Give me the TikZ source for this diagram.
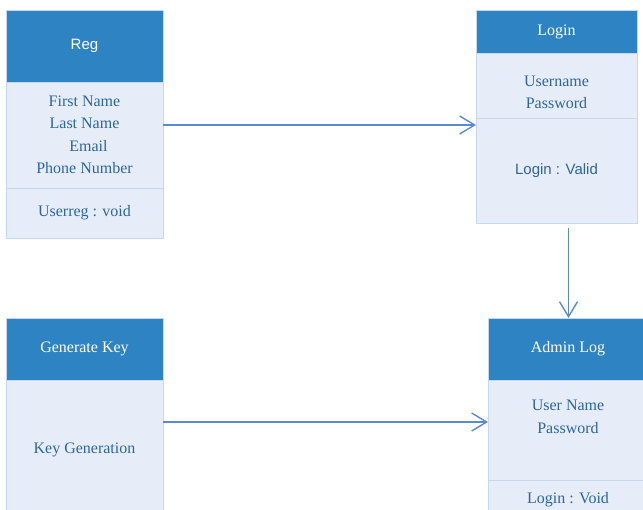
\documentclass[tikz,border=0pt]{standalone}
\usepackage{fontspec}
\setmainfont{Liberation Serif}
\newfontfamily\arialfont{Liberation Sans}
\usetikzlibrary{positioning,arrows.meta}
\definecolor{headblue}{HTML}{2E84C2}
\definecolor{bodyblue}{HTML}{E6EDF8}
\definecolor{lineblue}{HTML}{C4D9F0}
\definecolor{textblue}{HTML}{2C65A0}
\definecolor{arrowblue}{HTML}{5A8BD0}
\tikzset{
  head/.style={draw=lineblue, fill=headblue, text=white, anchor=north west,
    inner sep=0pt, outer sep=0pt, align=center,
    font=\fontsize{16}{22}\selectfont},
  part/.style={draw=lineblue, fill=bodyblue, text=textblue,
    inner sep=0pt, outer sep=0pt, align=center,
    font=\fontsize{16}{22.5}\selectfont},
  assoc/.style={draw=arrowblue, line width=1.4pt,
    -{Straight Barb[length=15pt,width=18pt]}},
}
\begin{document}
\begin{tikzpicture}[x=1pt,y=-1pt]
\useasboundingbox (0,0) rectangle (643,510);
\clip (0,0) rectangle (643,510);
% Reg
\node[head, minimum width=157, minimum height=72] (reghead) at (6,10) {\arialfont\fontsize{15}{20}\selectfont Reg};
\node[part, minimum width=157, minimum height=106, below=0pt of reghead] (regattr)
  {First Name\\Last Name\\\ \ Email\\Phone Number};
\node[part, minimum width=157, minimum height=50, below=0pt of regattr] (regop)
  {Userreg : void};
% Login
\node[head, minimum width=161, minimum height=43] (loginhead) at (476,10) {Login};
\node[part, minimum width=161, minimum height=65, below=0pt of loginhead] (loginattr)
  {\mbox{}\\[1.5pt]Username\\Password};
\node[part, minimum width=161, minimum height=105, below=0pt of loginattr] (loginop)
  {\arialfont\fontsize{15}{20}\selectfont Login : Valid};
% Generate Key
\node[head, minimum width=157, minimum height=62] (keyhead) at (6,318) {Generate Key};
\node[part, minimum width=157, minimum height=140, below=0pt of keyhead] (keyop)
  {Key Generation};
% Admin Log
\node[head, minimum width=160, minimum height=62] (adminhead) at (488,318) {Admin Log};
\node[part, minimum width=160, minimum height=100, below=0pt of adminhead] (adminattr)
  {User Name\\Password\\[4pt]};
\node[part, minimum width=160, minimum height=40, below=0pt of adminattr] (adminop)
  {Login : Void};
% connectors
\draw[assoc] ([yshift=10pt]regattr.east) -- ([yshift=10pt]regattr.east -| loginop.west);
\draw[assoc, shorten <=5pt] ([xshift=12pt]loginop.south) -- ([xshift=12pt]loginop.south |- adminhead.north);
\draw[assoc] ([yshift=28pt]keyop.east) -- ([yshift=28pt]keyop.east -| adminattr.west);
\end{tikzpicture}
\end{document}
